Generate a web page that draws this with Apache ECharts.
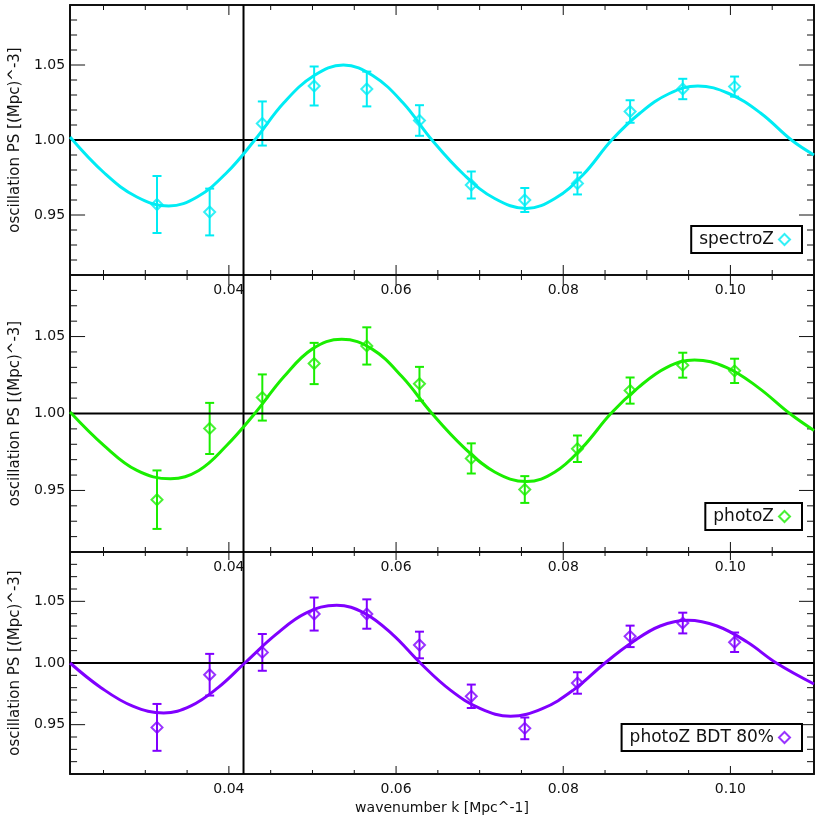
<!DOCTYPE html>
<html>
<head>
<meta charset="utf-8">
<script src="https://cdn.jsdelivr.net/npm/echarts@6/dist/echarts.min.js"></script>
<style>
  html, body { margin: 0; padding: 0; background: #fff; }
  #chart { width: 830px; height: 830px; }
</style>
</head>
<body>
<div id="chart"></div>
<script>
// measured band powers, same k for all three samples
const kPoints = [0.0314, 0.0377, 0.0440, 0.0502, 0.0565, 0.0628, 0.0690, 0.0754, 0.0817, 0.0880, 0.0943, 0.1005]

const spectroVal = [0.957, 0.952, 1.011, 1.036, 1.034, 1.013, 0.970, 0.960, 0.971, 1.019, 1.034, 1.0356]
const spectroErr = [0.019, 0.0156, 0.0147, 0.013, 0.0116, 0.0102, 0.009, 0.008, 0.0073, 0.0075, 0.0068, 0.0067]

const photoVal = [0.944, 0.9903, 1.0104, 1.0325, 1.0439, 1.0193, 0.9708, 0.9506, 0.9771, 1.0149, 1.0314, 1.0277]
const photoErr = [0.019, 0.0166, 0.015, 0.0134, 0.0121, 0.011, 0.0098, 0.0087, 0.0086, 0.0085, 0.0081, 0.0079]

const bdtVal = [0.9478, 0.9905, 1.0086, 1.0397, 1.0397, 1.0146, 0.973, 0.947, 0.9838, 1.0216, 1.0324, 1.0168]
const bdtErr = [0.019, 0.0169, 0.0149, 0.0134, 0.0119, 0.0108, 0.0095, 0.0088, 0.0087, 0.0087, 0.0084, 0.0079]

// fitted model curves
const spectroCurveK = [0.0210, 0.0251, 0.0290, 0.0328, 0.0362, 0.0397, 0.0431, 0.0466, 0.0502, 0.0537, 0.0572, 0.0608, 0.0643, 0.0681, 0.0718, 0.0756, 0.0790, 0.0824, 0.0858, 0.0892, 0.0927, 0.0961, 0.0998, 0.1036, 0.1073, 0.1100]
const spectroCurveV = [1.002, 0.978, 0.962, 0.956, 0.962, 0.978, 1.000, 1.025, 1.043, 1.050, 1.043, 1.025, 1.000, 0.977, 0.961, 0.9544, 0.961, 0.977, 1.000, 1.018, 1.031, 1.036, 1.031, 1.018, 1.000, 0.990]

const photoCurveK = [0.0210, 0.0251, 0.0290, 0.0330, 0.0364, 0.0397, 0.0431, 0.0466, 0.0500, 0.0535, 0.0571, 0.0607, 0.0643, 0.0681, 0.0718, 0.0756, 0.0790, 0.0823, 0.0857, 0.0890, 0.0924, 0.0957, 0.0995, 0.1033, 0.1071, 0.1100]
const photoCurveV = [1.001, 0.979, 0.963, 0.9576, 0.963, 0.979, 1.000, 1.024, 1.042, 1.0483, 1.042, 1.024, 1.000, 0.978, 0.962, 0.9558, 0.962, 0.978, 1.000, 1.017, 1.030, 1.0348, 1.030, 1.017, 1.000, 0.989]

const bdtCurveK = [0.0210, 0.0247, 0.0285, 0.0322, 0.0354, 0.0387, 0.0419, 0.0456, 0.0492, 0.0529, 0.0562, 0.0596, 0.0629, 0.0665, 0.0701, 0.0737, 0.0775, 0.0812, 0.0850, 0.0883, 0.0916, 0.0949, 0.0984, 0.1020, 0.1055, 0.1100]
const bdtCurveV = [1.000, 0.980, 0.965, 0.9595, 0.965, 0.980, 1.000, 1.023, 1.0405, 1.0468, 1.0405, 1.023, 1.000, 0.978, 0.963, 0.9568, 0.963, 0.978, 1.000, 1.017, 1.030, 1.0346, 1.030, 1.017, 1.000, 0.983]

// axes
const xMin = 0.021
const xMax = 0.110
const yMin = 0.91
const yMax = 1.09
const xMajorTicks = [0.04, 0.06, 0.08, 0.10]
const xMinorTicks = [0.025, 0.03, 0.035, 0.045, 0.05, 0.055, 0.065, 0.07, 0.075, 0.085, 0.09, 0.095, 0.105]
const yMajorTicks = [0.95, 1.00, 1.05]
const yMinorTicks = [0.91, 0.92, 0.93, 0.94, 0.96, 0.97, 0.98, 0.99, 1.01, 1.02, 1.03, 1.04, 1.06, 1.07, 1.08]
const refLevel = 1.0
const refK = 0.04175

const panels = [
  { name: 'spectroZ', color: '#00ecf4', val: spectroVal, err: spectroErr, curveK: spectroCurveK, curveV: spectroCurveV,
    grid: { top: 5, height: 270 }, legend: { top: 226 } },
  { name: 'photoZ', color: '#1aee00', val: photoVal, err: photoErr, curveK: photoCurveK, curveV: photoCurveV,
    grid: { top: 275, height: 277 }, legend: { top: 503 } },
  { name: 'photoZ BDT 80%', color: '#8000ff', val: bdtVal, err: bdtErr, curveK: bdtCurveK, curveV: bdtCurveV,
    grid: { top: 552, height: 222 }, legend: { top: 724 } }
]

const font = 'DejaVu Sans'
const axisColor = '#111'

const chart = echarts.init(document.getElementById('chart'))

function renderErrorBar (params, api) {
  const x = api.value(0)
  const lo = api.coord([x, api.value(1)])
  const hi = api.coord([x, api.value(2)])
  const half = 4.5
  const style = { stroke: api.visual('color'), lineWidth: 2, fill: null }
  return {
    type: 'group',
    children: [
      { type: 'line', shape: { x1: lo[0], y1: lo[1], x2: hi[0], y2: hi[1] }, style },
      { type: 'line', shape: { x1: lo[0] - half, y1: lo[1], x2: lo[0] + half, y2: lo[1] }, style },
      { type: 'line', shape: { x1: hi[0] - half, y1: hi[1], x2: hi[0] + half, y2: hi[1] }, style }
    ]
  }
}

// inward ticks on all four sides, placed through the axis scales
function tickRenderer (xMajorLen, xMinorLen) {
  return function (params, api) {
    const children = []
    const add = (x1, y1, x2, y2) => children.push({
      type: 'line', shape: { x1, y1, x2, y2 }, style: { stroke: axisColor, lineWidth: 1 }
    })
    const addX = (v, len) => {
      const b = api.coord([v, yMin])
      const t = api.coord([v, yMax])
      add(b[0], b[1], b[0], b[1] - len)
      add(t[0], t[1], t[0], t[1] + len)
    }
    const addY = (v, len) => {
      const l = api.coord([xMin, v])
      const r = api.coord([xMax, v])
      add(l[0], l[1], l[0] + len, l[1])
      add(r[0], r[1], r[0] - len, r[1])
    }
    xMajorTicks.forEach(v => addX(v, xMajorLen))
    xMinorTicks.forEach(v => addX(v, xMinorLen))
    yMajorTicks.forEach(v => addY(v, 15))
    yMinorTicks.forEach(v => addY(v, 7))
    return { type: 'group', children }
  }
}

function frameAxis (gridIndex, isX, position) {
  return {
    type: 'value',
    gridIndex,
    position,
    min: isX ? xMin : yMin,
    max: isX ? xMax : yMax,
    splitLine: { show: false },
    axisLine: { show: true, onZero: false, lineStyle: { color: axisColor, width: 2 } },
    axisTick: { show: false },
    axisLabel: { show: false }
  }
}

const grid = []
const xAxis = []
const yAxis = []
const series = []
const legend = []

panels.forEach((p, i) => {
  grid.push({ left: 70, right: 16, top: p.grid.top, height: p.grid.height })
  const isLast = i === panels.length - 1

  const xMain = xAxis.length
  const bottom = frameAxis(i, true, 'bottom')
  bottom.axisLabel = { show: true, customValues: xMajorTicks.slice(), formatter: v => v.toFixed(2), margin: 8,
    color: axisColor, fontFamily: font, fontSize: 14 }
  if (isLast) {
    bottom.name = 'wavenumber k [Mpc^-1]'
    bottom.nameLocation = 'middle'
    bottom.nameGap = 27
    bottom.nameTextStyle = { color: axisColor, fontFamily: font, fontSize: 14 }
  }
  xAxis.push(bottom)
  xAxis.push(frameAxis(i, true, 'top'))

  const yMain = yAxis.length
  const left = frameAxis(i, false, 'left')
  left.axisLabel = { show: true, customValues: yMajorTicks.slice(), formatter: v => v.toFixed(2), margin: 5,
    color: axisColor, fontFamily: font, fontSize: 14 }
  left.name = 'oscillation PS [(Mpc)^-3]'
  left.nameLocation = 'middle'
  left.nameGap = 39
  left.nameTextStyle = { color: axisColor, fontFamily: font, fontSize: 15 }
  yAxis.push(left)
  yAxis.push(frameAxis(i, false, 'right'))

  const ax = { xAxisIndex: xMain, yAxisIndex: yMain }
  series.push({ type: 'custom', ...ax, renderItem: tickRenderer(isLast ? 8 : 10, isLast ? 4 : 5),
    data: [[xMin, yMin]], silent: true, clip: false })
  // reference lines
  series.push({ type: 'line', ...ax, data: [[xMin, refLevel], [xMax, refLevel]], showSymbol: false,
    lineStyle: { color: '#000', width: 2 } })
  series.push({ type: 'line', ...ax, data: [[refK, yMin], [refK, yMax]], showSymbol: false,
    lineStyle: { color: '#000', width: 2 } })
  // model curve
  series.push({ type: 'line', ...ax, data: p.curveK.map((k, j) => [k, p.curveV[j]]), showSymbol: false,
    smooth: 0.4, lineStyle: { color: p.color, width: 3 } })
  // error bars
  series.push({ type: 'custom', ...ax, renderItem: renderErrorBar, itemStyle: { color: p.color },
    encode: { x: 0, y: [1, 2] },
    data: kPoints.map((k, j) => [k, p.val[j] - p.err[j], p.val[j] + p.err[j]]) })
  // data points
  series.push({ type: 'scatter', name: p.name, ...ax, data: kPoints.map((k, j) => [k, p.val[j]]),
    symbol: 'diamond', symbolSize: 11,
    itemStyle: { color: 'transparent', borderColor: p.color, borderWidth: 2 } })

  legend.push({
    data: [p.name],
    right: 28,
    top: p.legend.top,
    align: 'right',
    orient: 'vertical',
    padding: [5, 11, 5, 8],
    itemWidth: 11,
    itemHeight: 11,
    backgroundColor: '#fff',
    borderColor: '#000',
    borderWidth: 2,
    borderRadius: 0,
    selectedMode: false,
    textStyle: { color: '#111', fontFamily: font, fontSize: 17 }
  })
})

chart.setOption({
  animation: false,
  grid,
  xAxis,
  yAxis,
  legend,
  series
})
</script>
</body>
</html>
